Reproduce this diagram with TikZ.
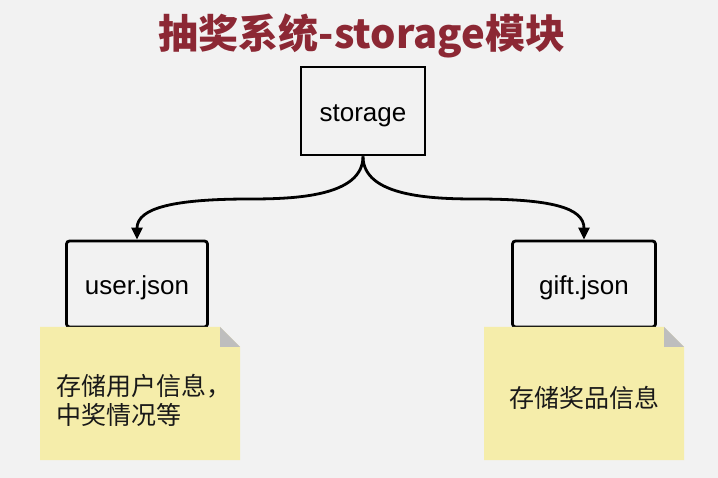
\documentclass[tikz,border=0pt]{standalone}
\usepackage{fontspec}
\setmainfont{Liberation Sans}
\newfontfamily\cjk{Noto Sans CJK SC}
\usetikzlibrary{arrows.meta}
\definecolor{bgcol}{RGB}{242,242,242}
\definecolor{titlered}{RGB}{140,40,52}
\definecolor{noteyel}{RGB}{245,237,170}
\definecolor{foldgray}{RGB}{190,190,190}
\tikzset{
  title/.style={text=titlered,font=\cjk\bfseries\fontsize{40}{44}\selectfont},
  box/.style={draw=black,line width=2.8pt,fill=bgcol,text height=22pt,text depth=0pt,
    font=\fontsize{26}{29}\selectfont},
  filebox/.style={box,rounded corners=3pt,minimum width=141pt,minimum height=86pt},
  notetext/.style={font=\cjk\fontsize{25}{29}\selectfont,text=black!90},
  link/.style={line width=2.8pt,-{Triangle[length=12pt,width=11pt]}},
}
\newcommand{\note}[3]{% x, y top, y bottom
  \fill[noteyel] (#1-100,#2) -- (#1+80,#2) -- (#1+100,#2+20) -- (#1+100,#3) -- (#1-100,#3) -- cycle;
  \fill[foldgray] (#1+80,#2) -- (#1+100,#2+20) -- (#1+80,#2+20) -- cycle;
}

\begin{document}
\begin{tikzpicture}[x=1pt,y=-1pt]
  \fill[bgcol] (0,0) rectangle (718,478);
  \useasboundingbox (0,0) rectangle (718,478);
  \node[title] (head) at (362,36) {抽奖系统-storage模块};
  \node[box,minimum width=124pt,minimum height=88pt] (storage) at (363,111) {storage};
  \node[filebox] (user) at (137,284) {user.json};
  \node[filebox,minimum width=143pt] (gift) at (584,284) {gift.json};
  \note{140}{327}{460}
  \note{584}{327}{460}
  \node[notetext,align=left,anchor=west] (usernote) at (53,400) {存储用户信息，\\中奖情况等};
  \node[notetext] (giftnote) at (584,398) {存储奖品信息};
  \coordinate (lmid) at (250,199);
  \coordinate (rmid) at (476,199);
  \draw[link] (storage.south) .. controls +(0,40) and +(45,0) .. (lmid)
    .. controls +(-75,0) and +(0,-32) .. (user.north);
  \draw[link] (storage.south) .. controls +(0,40) and +(-45,0) .. (rmid)
    .. controls +(75,0) and +(0,-32) .. (gift.north);
\end{tikzpicture}
\end{document}
